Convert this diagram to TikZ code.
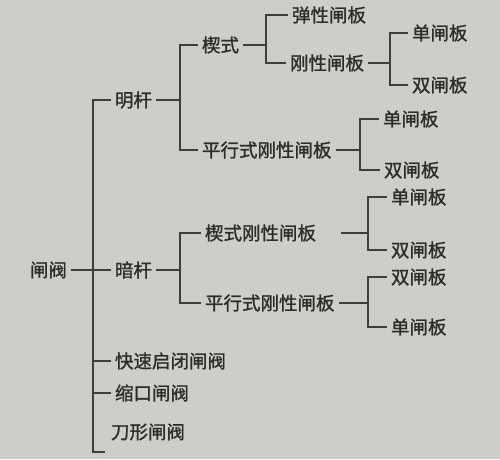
\documentclass[tikz,border=0pt]{standalone}
\usepackage{fontspec}
\newfontfamily\cjk{Noto Sans CJK SC}[FakeBold=1.2]
\definecolor{paper}{RGB}{207,205,200}
\definecolor{ink}{RGB}{45,45,45}
\definecolor{rule}{RGB}{62,62,62}
\tikzset{
  lbl/.style={anchor=west, inner sep=0pt, outer sep=4pt, text=ink,
    font=\cjk\fontsize{18.5}{20}\selectfont},
  conn/.style={draw=rule, line width=1.4pt}
}
\begin{document}
\begin{tikzpicture}[x=1pt,y=-1pt]
\fill[paper] (0,0) rectangle (500,459);
\useasboundingbox (0,0) rectangle (500,459);
% nodes
\node[lbl] (root) at (26,270) {闸阀};
\node[lbl] (m) at (111,100) {明杆};
\node[lbl] (a) at (111,270) {暗杆};
\node[lbl] (k) at (111,361) {快速启闭闸阀};
\node[lbl] (s) at (111,393) {缩口闸阀};
\node[lbl] (d) at (107,432) {刀形闸阀};
\node[lbl] (m1) at (198,45) {楔式};
\node[lbl] (m2) at (198,150) {平行式刚性闸板};
\node[lbl] (m11) at (288,15) {弹性闸板};
\node[lbl] (m12) at (286,63) {刚性闸板};
\node[lbl] (m121) at (408,33) {单闸板};
\node[lbl] (m122) at (408,85) {双闸板};
\node[lbl] (m21) at (379,119) {单闸板};
\node[lbl] (m22) at (380,170) {双闸板};
\node[lbl] (a1) at (201,233) {楔式刚性闸板};
\node[lbl] (a2) at (201,303) {平行式刚性闸板};
\node[lbl] (a11) at (387,197) {单闸板};
\node[lbl] (a12) at (387,250) {双闸板};
\node[lbl] (a21) at (387,277) {双闸板};
\node[lbl] (a22) at (387,327) {单闸板};
% junction coordinates
\coordinate (tb) at (93,452);
\coordinate (te) at (105,452);
\coordinate (jm) at (180,0);
\coordinate (ja) at (180,0);
\coordinate (jm1) at (266,0);
\coordinate (jm12) at (390,0);
\coordinate (jm2) at (360,0);
\coordinate (ja1) at (368,0);
\coordinate (ja2) at (368,0);
% trunk
\draw[conn] (m.west) -- (m.west -| tb) -- (tb) -- (te);
\draw[conn] (root.east) -- (a.west);
\draw[conn] (k.west) -- (k.west -| tb);
\draw[conn] (s.west) -- (s.west -| tb);
% 明杆
\draw[conn] (m.east) -- (m.east -| jm);
\draw[conn] (m1.west) -- (m1.west -| jm) -- (m2.west -| jm) -- (m2.west);
\draw[conn] (m1.east) -- (m1.east -| jm1);
\draw[conn] (m11.west) -- (m11.west -| jm1) -- (m12.west -| jm1) -- (m12.west);
\draw[conn] (m12.east) -- (m12.east -| jm12);
\draw[conn] (m121.west) -- (m121.west -| jm12) -- (m122.west -| jm12) -- (m122.west);
\draw[conn] (m2.east) -- (m2.east -| jm2);
\draw[conn] (m21.west) -- (m21.west -| jm2) -- (m22.west -| jm2) -- (m22.west);
% 暗杆
\draw[conn] (a.east) -- (a.east -| ja);
\draw[conn] (a1.west) -- (a1.west -| ja) -- (a2.west -| ja) -- (a2.west);
\draw[conn] ([xshift=21pt]a1.east) -- (a1.east -| ja1);
\draw[conn] (a11.west) -- (a11.west -| ja1) -- (a12.west -| ja1) -- (a12.west);
\draw[conn] (a2.east) -- (a2.east -| ja2);
\draw[conn] (a21.west) -- (a21.west -| ja2) -- (a22.west -| ja2) -- (a22.west);
\end{tikzpicture}
\end{document}
